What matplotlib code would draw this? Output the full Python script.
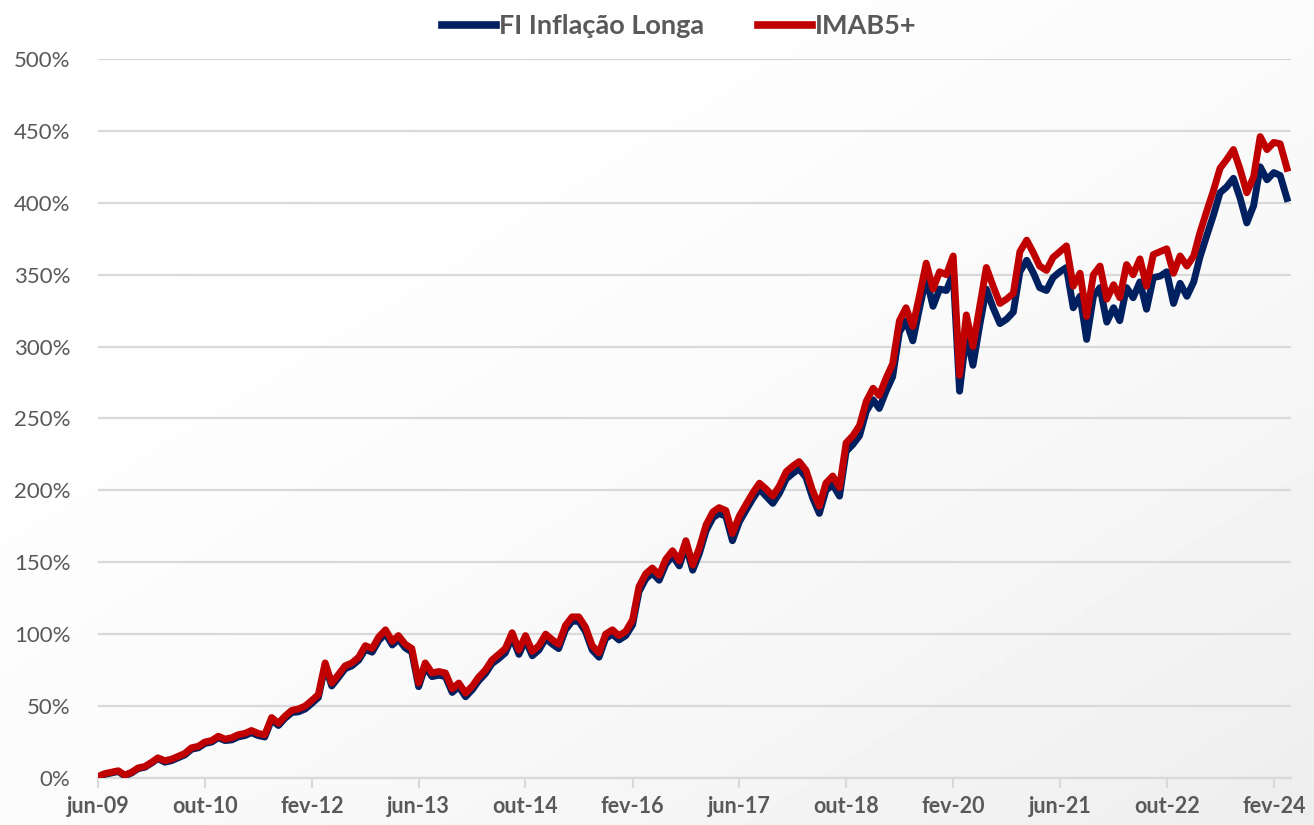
import numpy as np
import pandas as pd
import matplotlib
matplotlib.use("Agg")
import matplotlib.pyplot as plt
from matplotlib.ticker import FuncFormatter

# monthly readings, jun-09 .. apr-24 (cumulative return, %)
start_month = "2009-06-01"

imab5 = [
    1, 3, 4, 5, 2, 4, 7, 8, 11, 14,
    12, 13, 15, 17, 21, 22, 25, 26, 29, 27,
    28, 30, 31, 33, 31, 30, 42, 38, 43, 47,
    48, 50, 54, 58, 80, 66, 72, 78, 80, 84,
    92, 90, 98, 103, 95, 99, 93, 90, 66, 80,
    73, 74, 73, 62, 66, 59, 64, 70, 75, 82,
    86, 90, 101, 89, 99, 88, 92, 100, 96, 93,
    106, 112, 112, 105, 92, 87, 100, 103, 99, 102,
    110, 133, 142, 146, 141, 152, 158, 151, 165, 148,
    160, 176, 185, 188, 186, 170, 182, 190, 198, 205,
    201, 196, 203, 213, 217, 220, 214, 200, 189, 205,
    210, 202, 233, 238, 245, 262, 271, 266, 278, 288,
    318, 327, 314, 336, 358, 340, 352, 350, 363, 280,
    322, 300, 328, 355, 342, 330, 333, 337, 366, 374,
    365, 356, 353, 362, 366, 370, 342, 351, 321, 350,
    356, 333, 343, 334, 357, 350, 361, 342, 364, 366,
    368, 351, 363, 356, 363, 379, 394, 408, 424, 430,
    437, 423, 407, 418, 446, 437, 442, 441, 424,
]

fi_inflacao = [
    0.5, 2.5, 3.5, 4.5, 1.5, 3.5, 6.5, 7.5, 10.5, 13.5,
    11, 12, 14, 16, 20, 21, 24, 25, 28, 26,
    26.5, 28.5, 29.5, 31.5, 29.5, 28.5, 40.5, 36.5, 41.5, 45.5,
    46, 48, 52, 56, 78, 64, 70, 76, 78, 82,
    89.5, 87.5, 95.5, 100.5, 92.5, 96.5, 90.5, 87.5, 63.5, 77.5,
    70.5, 71.5, 70.5, 59.5, 63.5, 56.5, 61.5, 67.5, 72.5, 79.5,
    83, 87, 98, 86, 96, 85, 89, 97, 93, 90,
    103, 109, 109, 102, 89, 84, 97, 100, 96, 99,
    106.5, 129.5, 138.5, 142.5, 137.5, 148.5, 154.5, 147.5, 161.5, 144.5,
    156, 172, 181, 184, 182, 165, 178, 186, 194, 201,
    196, 191, 198, 208, 212, 215, 209, 195, 184, 200,
    204, 196, 227, 232, 238, 255, 263, 257, 269, 279,
    310, 318, 304, 327, 348, 328, 340, 339, 351, 269,
    309, 287, 315, 340, 327, 316, 319, 324, 352, 360,
    351, 341, 339, 348, 352, 355, 327, 335, 305, 335,
    341, 317, 327, 318, 341, 334, 345, 326, 348, 349,
    352, 330, 344, 335, 345, 362, 377, 391, 407, 411,
    417, 403, 386, 398, 425, 416, 421, 419, 403,
]

tick_labels = ["jun-09", "out-10", "fev-12", "jun-13", "out-14", "fev-16",
               "jun-17", "out-18", "fev-20", "jun-21", "out-22", "fev-24"]

dates = pd.date_range(start_month, periods=len(imab5), freq="MS")
tick_dates = pd.date_range(start_month, periods=len(tick_labels), freq="16MS")

plt.rcParams["font.family"] = ["Lato", "DejaVu Sans"]
text_color = "#595959"

fig = plt.figure(figsize=(13.14, 8.25), dpi=100)

# soft diagonal background gradient
bg = fig.add_axes([0, 0, 1, 1], zorder=-10)
gx, gy = np.meshgrid(np.linspace(0, 1, 300), np.linspace(0, 1, 200))
shade = 1.0 - 0.07 * np.clip((gx + gy) / 2, 0, 1) ** 2
bg.imshow(shade, cmap="gray", vmin=0, vmax=1, aspect="auto", extent=[0, 1, 0, 1])
bg.axis("off")

ax = fig.add_axes([0.0746, 0.057, 0.908, 0.8715])
ax.patch.set_alpha(0)

ax.plot(dates, fi_inflacao, color="#002060", lw=5, solid_joinstyle="round",
        label="FI Inflação Longa", zorder=3)
ax.plot(dates, imab5, color="#c00000", lw=5, solid_joinstyle="round",
        label="IMAB5+", zorder=4)

ax.set_ylim(0, 500)
ax.set_yticks(np.arange(0, 501, 50))
ax.yaxis.set_major_formatter(FuncFormatter(lambda v, p: f"{v:.0f}%"))
ax.set_xlim(dates[0], dates[-1] + pd.Timedelta(days=19))
ax.set_xticks(tick_dates)
ax.set_xticklabels(tick_labels)

ax.grid(axis="y", color="#d9d9d9", lw=1.6)
ax.set_axisbelow(True)
for side in ["top", "right", "left"]:
    ax.spines[side].set_visible(False)
ax.spines["bottom"].set_color("#d9d9d9")
ax.spines["bottom"].set_linewidth(1.6)

ax.tick_params(axis="y", length=0, pad=20, labelsize=16, labelcolor=text_color)
ax.tick_params(axis="x", length=7, width=1.6, color="#d9d9d9", pad=6,
               labelsize=15.5, labelcolor=text_color)
for lbl in ax.get_xticklabels():
    lbl.set_fontweight("bold")

leg = fig.legend(loc="upper center", bbox_to_anchor=(0.517, 1.012), ncol=2,
                 frameon=False, handlelength=2.0, handletextpad=0.1,
                 columnspacing=2.0, prop={"size": 19.5, "weight": "bold"})
for t in leg.get_texts():
    t.set_color(text_color)
for h in leg.get_lines():
    h.set_linewidth(5.5)

fig.savefig("out.png", dpi=100)
